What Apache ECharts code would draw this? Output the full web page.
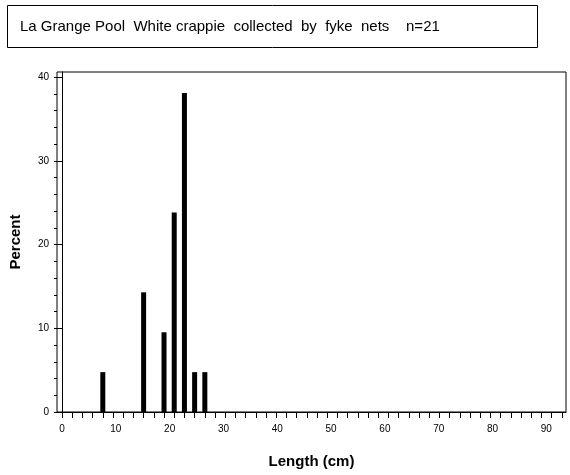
<!DOCTYPE html><html><head><meta charset="utf-8"><script src="https://cdn.jsdelivr.net/npm/echarts@6/dist/echarts.min.js"></script>
<style>body{margin:0;background:#fff}#c{width:570px;height:475px}</style></head><body><div id="c"></div><script>
const lengths=[8,16,20,22,24,26,28];
const percents=[4.76,14.29,9.52,23.81,38.10,4.76,4.76];
const xLabels=[0,10,20,30,40,50,60,70,80,90];
const yLabels=[0,10,20,30,40];
const xTicks=[];for(let v=0;v<=98;v+=2)xTicks.push(v);
const yMinor=[];for(let v=0;v<=40;v+=2)yMinor.push(v);
const LSTEP=10.55; // label spacing in axis units as drawn in the reference
const F='Liberation Sans, Arial, sans-serif';
const ch=echarts.init(document.getElementById('c'));
const yBase={type:'value',min:0,max:40.6,splitLine:{show:false}};
ch.setOption({animation:false,
graphic:[{type:'rect',shape:{x:7.5,y:5.5,width:530,height:42},style:{fill:'#fff',stroke:'#000',lineWidth:1}},
{type:'text',left:20,top:19,style:{text:'La Grange Pool  White crappie  collected  by  fyke  nets    n=21',fontSize:15,fontFamily:F,fill:'#000'}}],
grid:{left:55,right:4,top:72,bottom:63,show:true,borderColor:'#000',borderWidth:1},
xAxis:{type:'value',min:-0.98,max:98.8,name:'Length (cm)',nameLocation:'middle',nameGap:42,nameTextStyle:{fontSize:15,fontWeight:'bold',fontFamily:F,color:'#000'},
axisLine:{lineStyle:{color:'#000'}},splitLine:{show:false},
axisTick:{customValues:xTicks,length:6,lineStyle:{color:'#000'}},
axisLabel:{customValues:xLabels.map(v=>v/10*LSTEP),formatter:v=>String(Math.round(v/LSTEP)*10),color:'#000',fontSize:10,fontFamily:F,margin:12}},
yAxis:[Object.assign({},yBase,{name:'Percent',nameLocation:'middle',nameGap:34,nameTextStyle:{fontSize:15,fontWeight:'bold',fontFamily:F,color:'#000'},
axisLine:{show:true,lineStyle:{color:'#000'}},
axisTick:{customValues:yLabels,length:5,lineStyle:{color:'#000'}},
axisLabel:{customValues:yLabels,color:'#000',fontSize:10,fontFamily:F,margin:8}}),
Object.assign({},yBase,{position:'left',axisLine:{show:false},axisLabel:{show:false},
axisTick:{show:true,customValues:yMinor,length:3,lineStyle:{color:'#000'}}})],
series:[{type:'bar',data:lengths.map((l,i)=>[l,percents[i]]),barWidth:5,itemStyle:{color:'#000'}}]
});
</script></body></html>
